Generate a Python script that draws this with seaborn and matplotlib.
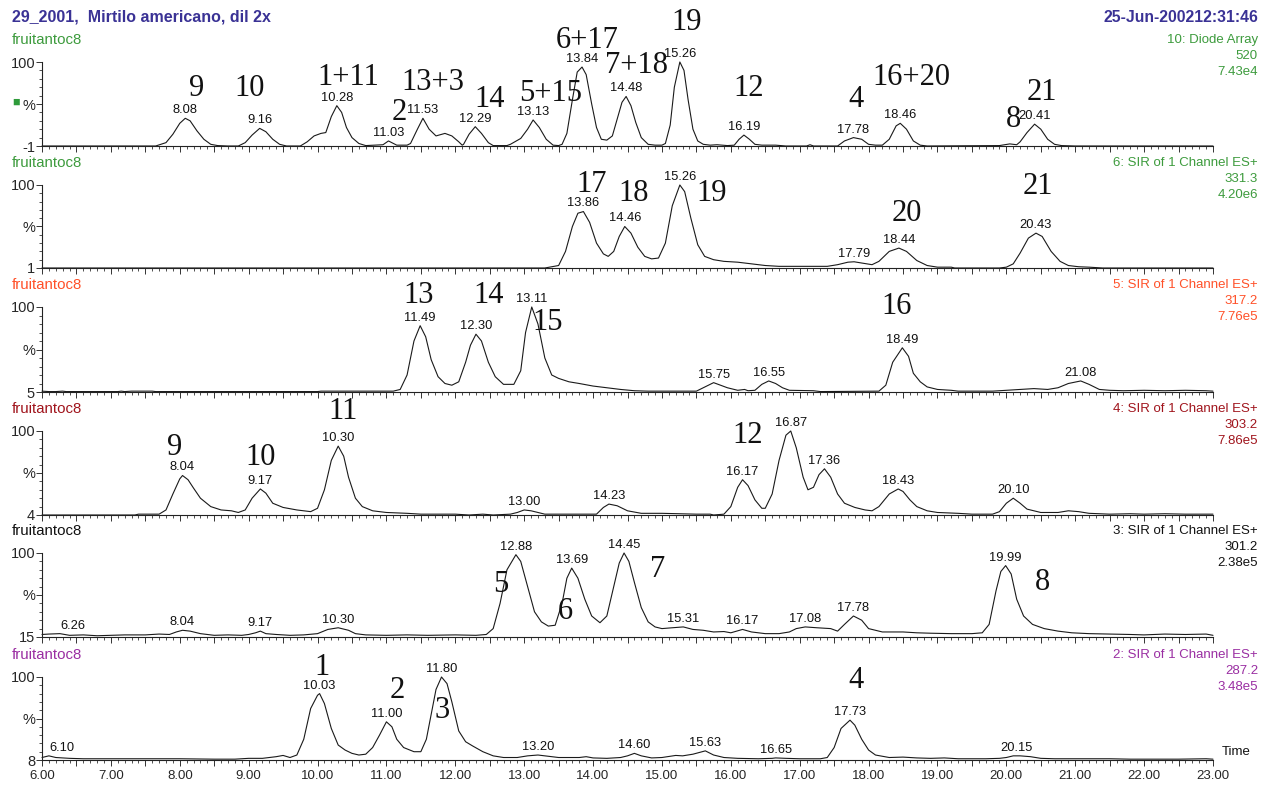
import numpy as np
import pandas as pd
import matplotlib
matplotlib.use("Agg")
import matplotlib.pyplot as plt
import seaborn as sns

sns.set_style("ticks")
plt.rcParams['font.family'] = ['Liberation Sans', 'DejaVu Sans']

# chromatogram traces: (retention time, % of channel)
trace_520 = [(6.0, 0), (7.65, 0), (7.8, 4), (7.9, 14), (8.0, 27), (8.08, 33), (8.15, 30), (8.25, 18), (8.35, 8),
             (8.45, 2), (8.55, 0.5), (8.7, 0), (8.85, 0), (8.95, 4), (9.05, 13), (9.16, 21), (9.25, 17), (9.35, 8),
             (9.45, 2), (9.55, 0), (9.75, 0), (9.85, 5), (9.95, 12), (10.05, 15), (10.12, 16), (10.2, 35),
             (10.28, 48), (10.35, 40), (10.42, 22), (10.5, 10), (10.6, 3), (10.7, 0.5), (10.95, 1.5), (11.03, 6),
             (11.15, 1), (11.3, 1), (11.35, 3), (11.45, 20), (11.53, 33), (11.62, 20), (11.72, 12), (11.85, 15),
             (11.95, 12), (12.05, 5), (12.1, 1), (12.12, 2), (12.2, 14), (12.29, 23), (12.38, 15), (12.48, 4),
             (12.55, 0.5), (12.75, 0.5), (12.8, 2), (12.95, 9), (13.05, 20), (13.13, 31), (13.22, 22), (13.32, 8),
             (13.42, 1), (13.5, 0.5), (13.55, 2), (13.62, 15), (13.7, 55), (13.77, 88), (13.84, 94), (13.9, 85),
             (13.98, 50), (14.05, 22), (14.12, 8), (14.2, 7), (14.28, 12), (14.36, 35), (14.42, 52), (14.48, 59),
             (14.55, 48), (14.62, 28), (14.7, 10), (14.8, 2), (14.9, 1), (15.0, 1), (15.05, 3), (15.12, 25),
             (15.18, 70), (15.26, 100), (15.32, 90), (15.38, 55), (15.45, 20), (15.52, 6), (15.6, 2), (15.7, 1),
             (15.8, 1.5), (15.95, 0.5), (16.05, 1), (16.12, 8), (16.19, 13), (16.27, 8), (16.35, 2), (16.45, 1),
             (16.65, 1), (16.8, 0), (17.1, 0), (17.15, 1.5), (17.2, 0), (17.55, 0), (17.65, 6), (17.78, 10),
             (17.9, 8), (18.0, 2), (18.1, 1), (18.2, 1), (18.3, 8), (18.4, 24), (18.46, 27), (18.55, 20),
             (18.65, 6), (18.75, 1), (18.85, 0), (19.9, 0.5), (20.05, 2.5), (20.15, 1.5), (20.2, 5), (20.3, 16),
             (20.41, 26), (20.5, 20), (20.6, 8), (20.7, 2), (20.8, 0.5), (21.0, 0), (23.0, 0)]

trace_331 = [(6.0, 0), (13.3, 0), (13.5, 3), (13.6, 20), (13.7, 50), (13.78, 66), (13.86, 68), (13.95, 55),
             (14.05, 30), (14.15, 17), (14.22, 14), (14.3, 20), (14.38, 38), (14.46, 50), (14.55, 42), (14.65, 25),
             (14.75, 14), (14.85, 11), (14.95, 12), (15.05, 30), (15.15, 75), (15.26, 100), (15.33, 92),
             (15.42, 60), (15.52, 28), (15.62, 14), (15.75, 10), (15.9, 8), (16.1, 7), (16.3, 5), (16.5, 3),
             (16.7, 2), (17.4, 2), (17.55, 4), (17.7, 7), (17.79, 7.5), (17.9, 6), (18.05, 4), (18.15, 8),
             (18.3, 20), (18.44, 24), (18.55, 20), (18.7, 9), (18.85, 3), (19.0, 1), (19.2, 1), (19.25, 0),
             (19.9, 0), (20.0, 1), (20.1, 5), (20.2, 18), (20.32, 36), (20.43, 42), (20.52, 38), (20.65, 20),
             (20.78, 8), (20.9, 3), (21.05, 1.5), (21.2, 1), (21.3, 0.5), (21.4, 0), (23.0, 0)]

trace_317 = [(6.0, 1), (6.1, 0.5), (6.2, 0.5), (6.3, 1), (6.35, 0.5), (7.1, 0.5), (7.15, 1), (7.2, 0.5), (7.3, 1),
             (7.6, 1), (7.65, 0.5), (10.0, 0.5), (10.05, 1), (11.1, 1), (11.2, 3), (11.3, 20), (11.4, 60),
             (11.49, 78), (11.57, 65), (11.65, 38), (11.75, 18), (11.85, 10), (11.95, 8), (12.05, 12), (12.15, 35),
             (12.22, 55), (12.3, 68), (12.38, 60), (12.48, 35), (12.58, 18), (12.7, 9), (12.85, 9), (12.95, 25),
             (13.02, 70), (13.11, 100), (13.2, 80), (13.3, 40), (13.4, 20), (13.5, 16), (13.65, 12), (13.8, 10),
             (14.0, 7), (14.2, 5), (14.4, 3), (14.6, 1.5), (14.8, 1), (15.0, 1), (15.5, 1), (15.6, 5),
             (15.75, 11), (15.85, 8), (15.95, 5), (16.1, 2), (16.2, 3), (16.25, 1.5), (16.35, 2), (16.45, 9),
             (16.55, 13), (16.65, 10), (16.75, 5), (16.85, 2), (17.2, 1.5), (17.3, 0.5), (18.15, 1), (18.25, 8),
             (18.35, 35), (18.49, 52), (18.58, 42), (18.65, 22), (18.75, 12), (18.85, 6), (19.0, 3), (19.2, 2),
             (19.3, 1), (19.8, 1), (20.0, 2), (20.2, 3), (20.4, 4), (20.6, 3), (20.75, 5), (20.9, 10),
             (21.08, 13), (21.2, 9), (21.35, 3), (21.5, 2), (21.7, 1.5), (22.0, 2), (22.3, 1.5), (22.6, 2),
             (22.9, 1.5), (23.0, 1)]

trace_303 = [(6.0, 0), (7.35, 0), (7.4, 1), (7.7, 1), (7.8, 6), (7.9, 25), (8.0, 43), (8.04, 47), (8.12, 42),
             (8.2, 32), (8.3, 20), (8.45, 10), (8.6, 6), (8.75, 5), (8.85, 3), (8.95, 6), (9.05, 20), (9.17, 31),
             (9.25, 26), (9.35, 14), (9.5, 9), (9.7, 6), (9.8, 5), (9.9, 4), (10.0, 8), (10.1, 30), (10.2, 65),
             (10.3, 82), (10.38, 70), (10.45, 45), (10.55, 20), (10.65, 10), (10.8, 5), (11.0, 3), (11.3, 2),
             (11.5, 1), (12.0, 1), (12.2, 0), (12.4, 1), (12.55, 0), (12.8, 1), (12.9, 3), (13.0, 6), (13.1, 5),
             (13.2, 3), (13.3, 1), (13.4, 1), (14.05, 1), (14.15, 9), (14.23, 13), (14.35, 11), (14.5, 5),
             (14.7, 2), (15.0, 2), (15.5, 1), (15.7, 1), (15.75, 0), (15.9, 1), (16.0, 10), (16.1, 33),
             (16.17, 42), (16.25, 35), (16.35, 18), (16.45, 8), (16.5, 8), (16.6, 25), (16.7, 65), (16.8, 95),
             (16.87, 100), (16.95, 80), (17.05, 45), (17.12, 30), (17.2, 33), (17.28, 48), (17.36, 55),
             (17.45, 45), (17.55, 25), (17.65, 14), (17.8, 9), (17.95, 6), (18.05, 5), (18.15, 10), (18.3, 25),
             (18.43, 31), (18.5, 28), (18.6, 18), (18.7, 10), (18.85, 5), (19.0, 3), (19.3, 2), (19.5, 1),
             (19.8, 1), (19.9, 4), (20.0, 14), (20.1, 20), (20.2, 14), (20.3, 7), (20.5, 3), (20.75, 3),
             (20.9, 5), (21.05, 4), (21.2, 2), (21.5, 1), (21.8, 1.5), (22.0, 1), (22.3, 1.5), (22.6, 1),
             (23.0, 1)]

trace_301 = [(6.0, 3), (6.1, 3.5), (6.26, 4), (6.4, 2), (6.6, 2.5), (6.8, 1.5), (7.0, 2), (7.2, 2.5), (7.5, 2.5),
             (7.7, 3.5), (7.85, 3), (7.95, 6), (8.04, 8), (8.15, 7), (8.3, 4), (8.5, 2), (8.7, 2.5), (8.9, 2),
             (9.0, 3), (9.1, 5), (9.17, 7), (9.25, 4), (9.4, 3), (9.6, 2), (9.8, 2.5), (10.0, 4), (10.15, 9),
             (10.3, 11), (10.45, 8), (10.55, 4), (10.7, 2.5), (11.0, 2), (11.3, 2.5), (11.6, 2), (12.0, 2.5),
             (12.3, 2), (12.45, 3), (12.55, 10), (12.65, 40), (12.75, 80), (12.88, 98), (12.95, 90), (13.05, 60),
             (13.15, 30), (13.25, 18), (13.35, 13), (13.45, 14), (13.55, 40), (13.62, 70), (13.69, 82),
             (13.78, 70), (13.88, 45), (13.98, 25), (14.1, 17), (14.2, 25), (14.3, 60), (14.38, 88),
             (14.45, 100), (14.52, 90), (14.6, 65), (14.7, 35), (14.8, 18), (14.9, 12), (15.0, 10), (15.15, 11),
             (15.31, 12), (15.45, 9), (15.6, 8), (15.75, 6), (15.9, 6.5), (16.0, 5), (16.17, 9), (16.3, 6),
             (16.5, 4), (16.7, 4), (16.85, 6), (16.95, 10), (17.08, 12), (17.25, 11), (17.45, 10), (17.55, 7),
             (17.65, 15), (17.78, 25), (17.9, 20), (18.0, 10), (18.2, 6), (18.5, 6), (18.7, 5), (18.9, 4.5),
             (19.2, 4), (19.5, 4), (19.65, 5), (19.75, 15), (19.85, 55), (19.92, 78), (19.99, 85), (20.07, 75),
             (20.15, 45), (20.25, 25), (20.38, 15), (20.55, 10), (20.75, 7), (20.95, 5), (21.2, 4), (21.5, 3.5),
             (21.8, 3), (22.0, 2.5), (22.3, 3.5), (22.6, 3), (22.9, 3.5), (23.0, 2)]

trace_287 = [(6.0, 3), (6.1, 5), (6.2, 3), (6.4, 2), (6.6, 1.5), (7.0, 1.5), (7.5, 1.5), (8.0, 1.5), (8.5, 1),
             (8.8, 1), (9.0, 2), (9.2, 2), (9.4, 4), (9.5, 5.5), (9.6, 3), (9.7, 6), (9.8, 25), (9.9, 62),
             (10.0, 78), (10.03, 80), (10.1, 68), (10.2, 38), (10.3, 18), (10.4, 12), (10.5, 8), (10.6, 6),
             (10.7, 7), (10.8, 15), (10.9, 30), (11.0, 46), (11.08, 40), (11.15, 25), (11.25, 15), (11.4, 10),
             (11.5, 10), (11.58, 25), (11.65, 55), (11.72, 85), (11.8, 100), (11.88, 92), (11.95, 70),
             (12.05, 35), (12.15, 22), (12.25, 17), (12.4, 10), (12.55, 5), (12.7, 3), (12.9, 3), (13.05, 5),
             (13.2, 6), (13.3, 5), (13.5, 3), (13.8, 3), (13.9, 4), (14.0, 2.5), (14.2, 2), (14.4, 3), (14.5, 5),
             (14.6, 8), (14.7, 5), (14.85, 2.5), (15.0, 3), (15.2, 5.5), (15.3, 5), (15.45, 7), (15.63, 11),
             (15.75, 6), (15.9, 3), (16.1, 2), (16.4, 1.5), (16.6, 2), (16.65, 2.5), (16.8, 2), (17.0, 1.5),
             (17.3, 1.5), (17.4, 3), (17.5, 15), (17.6, 38), (17.73, 48), (17.8, 42), (17.9, 25), (18.0, 12),
             (18.1, 6), (18.3, 3), (18.5, 3.5), (18.7, 2.5), (18.9, 2), (19.1, 2.5), (19.3, 1.5), (19.7, 1.5),
             (19.9, 2), (20.0, 3), (20.1, 5), (20.2, 5), (20.35, 4), (20.5, 2), (20.7, 1.5), (21.0, 1.5),
             (21.5, 1.5), (21.8, 1), (22.0, 1), (22.5, 1), (22.9, 1.5), (23.0, 1)]

traces = [trace_520, trace_331, trace_317, trace_303, trace_301, trace_287]

# peak retention times printed above the peaks
rt_520 = [8.08, 9.16, 10.28, 11.03, 11.53, 12.29, 13.13, 13.84, 14.48, 15.26, 16.19, 17.78, 18.46, 20.41]
rt_331 = [13.86, 14.46, 15.26, 17.79, 18.44, 20.43]
rt_317 = [11.49, 12.30, 13.11, 15.75, 16.55, 18.49, 21.08]
rt_303 = [8.04, 9.17, 10.30, 13.00, 14.23, 16.17, 16.87, 17.36, 18.43, 20.10]
rt_301 = [6.26, 8.04, 9.17, 10.30, 12.88, 13.69, 14.45, 15.31, 16.17, 17.08, 17.78, 19.99]
rt_287 = [6.10, 10.03, 11.00, 11.80, 13.20, 14.60, 15.63, 16.65, 17.73, 20.15]
peak_rts = [rt_520, rt_331, rt_317, rt_303, rt_301, rt_287]

# compound numbers written on the chart
cmp_520 = ["9", "10", "1+11", "13+3", "2", "14", "5+15", "6+17", "7+18", "19", "12", "4", "16+20", "8", "21"]
cmp_331 = ["17", "18", "19", "20", "21"]
cmp_317 = ["13", "14", "15", "16"]
cmp_303 = ["9", "10", "11", "12"]
cmp_301 = ["5", "6", "7", "8"]
cmp_287 = ["1", "2", "3", "4"]
compounds = [cmp_520, cmp_331, cmp_317, cmp_303, cmp_301, cmp_287]

channels = ["10: Diode Array", "6: SIR of 1 Channel ES+", "5: SIR of 1 Channel ES+",
            "4: SIR of 1 Channel ES+", "3: SIR of 1 Channel ES+", "2: SIR of 1 Channel ES+"]
masses = ["520", "331.3", "317.2", "303.2", "301.2", "287.2"]
intensities = ["7.43e4", "4.20e6", "7.76e5", "7.86e5", "2.38e5", "3.48e5"]
baselines = ["-1", "1", "5", "4", "15", "8"]

# layout / style
W, H = 1263, 785
panel_top = [62, 185, 307, 431, 553, 677]
panel_base = [146, 268, 392, 515, 637, 760]
colors = ["#3d9b3d", "#3d9b3d", "#ff5028", "#a0141c", "#111111", "#9a2ea2"]
cmp_pos = [
    [(8.25, 69), (9.01, 69), (10.45, 82), (11.67, 75), (11.18, 40), (12.5, 55), (13.38, 62), (13.92, 126),
     (14.63, 96), (15.36, 147), (16.26, 69), (17.82, 55), (18.62, 82), (20.1, 31), (20.51, 64)],
    [(13.98, 100), (14.59, 90), (15.72, 90), (18.56, 66), (20.46, 98)],
    [(11.47, 113), (12.48, 113), (13.34, 82), (18.41, 100)],
    [(7.92, 80), (9.17, 68), (10.375, 123), (16.25, 95)],
    [(12.66, 62), (13.6, 30), (14.94, 80), (20.52, 65)],
    [(10.06, 112), (11.16, 84), (11.81, 60), (17.82, 96)],
]
title_color = "#3a3295"


def fy(py):
    return 1 - py / H


fig = plt.figure(figsize=(W / 100, H / 100), dpi=100)
x0, x1 = 42, 1213

for i in range(6):
    ax = fig.add_axes([x0 / W, fy(panel_base[i]), (x1 - x0) / W, (panel_base[i] - panel_top[i]) / H])
    df = pd.DataFrame(traces[i], columns=["rt", "pct"])
    sns.lineplot(data=df, x="rt", y="pct", ax=ax, color="#1a1a1a", lw=0.8, estimator=None, sort=False)
    ax.lines[-1].set_clip_on(False)
    ax.set_xlim(6, 23)
    ax.set_ylim(0, 100)
    ax.set_xlabel("")
    ax.set_ylabel("")
    sns.despine(ax=ax)
    for s in ["left", "bottom"]:
        ax.spines[s].set_linewidth(0.8)
        ax.spines[s].set_color("#222222")

    ax.set_xticks(np.arange(6, 23.01, 0.5))
    ax.set_xticks(np.arange(6, 23.01, 0.1), minor=True)
    ax.set_yticks([0, 50, 100])
    ax.set_yticks(np.arange(0, 101, 10), minor=True)
    ax.set_yticklabels([baselines[i], "%", "100"], fontsize=10.5)
    ax.tick_params(axis="both", which="major", length=4, width=0.7, color="#333333", pad=1)
    ax.tick_params(axis="both", which="minor", length=2.5, width=0.6, color="#333333")
    if i == 5:
        ticks = np.arange(6, 23.01, 0.5)
        ax.set_xticklabels([f"{t:.2f}" if t == int(t) else "" for t in ticks], fontsize=9.5)
        ax.tick_params(axis="x", which="major", pad=3)
    else:
        ax.tick_params(axis="x", labelbottom=False)

    # retention time labels on peaks
    for rt in peak_rts[i]:
        yv = np.interp(rt, df["rt"], df["pct"])
        ha = "left" if rt < 6.3 else "center"
        ax.annotate(f"{rt:.2f}", (rt, yv), xytext=(0, 1.5), textcoords="offset points",
                    ha=ha, va="bottom", fontsize=9.3, color="#111111", annotation_clip=False)

    # compound numbers
    for name, (cx, cy) in zip(compounds[i], cmp_pos[i]):
        ax.text(cx, cy, name, ha="center", va="center", fontsize=22, family="Liberation Serif",
                color="#111111", clip_on=False)

    # channel headers
    fig.text(12 / W, fy(panel_top[i] - 22), "fruitantoc8", color=colors[i], fontsize=10.8, va="center")
    fig.text(1258 / W, fy(panel_top[i] - 22), channels[i], color=colors[i], fontsize=9.5, va="center", ha="right")
    fig.text(1258 / W, fy(panel_top[i] - 6), masses[i], color=colors[i], fontsize=9.5, va="center", ha="right")
    fig.text(1258 / W, fy(panel_top[i] + 10), intensities[i], color=colors[i], fontsize=9.5, va="center", ha="right")

fig.text(12 / W, fy(17), "29_2001,  Mirtilo americano, dil 2x", color=title_color, fontsize=11.5,
         fontweight="bold", va="center")
fig.text(1258 / W, fy(17), "25-Jun-200212:31:46", color=title_color, fontsize=11.3,
         fontweight="bold", va="center", ha="right")
fig.text(16 / W, fy(103), "■", color="#2e9b3a", fontsize=9, va="center", ha="center")
fig.text(1222 / W, fy(752), "Time", color="#111111", fontsize=9.5, va="center", ha="left")

fig.savefig("out.png", dpi=100)
